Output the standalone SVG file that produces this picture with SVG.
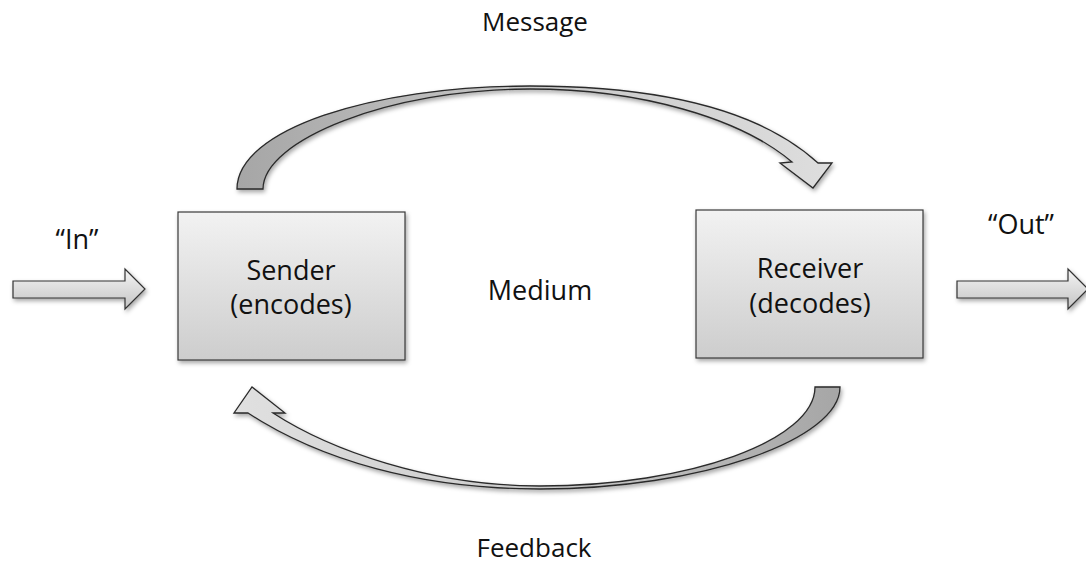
<svg xmlns="http://www.w3.org/2000/svg" width="1086" height="565" viewBox="0 0 1086 565">
  <style>
    .lbl { font-family: "Open Sans", "Liberation Sans", sans-serif; font-size: 27px; fill: #111; text-anchor: middle; }
    .big { font-size: 26px; }
    .box { fill: url(#boxFill); stroke: #3a3a3a; stroke-width: 1.2; filter: url(#shadow); }
    .straight { fill: url(#straightFill); stroke: #333; stroke-width: 1.2; stroke-linejoin: miter; filter: url(#shadow); }
    .curve { stroke: #2a2a2a; stroke-width: 1.3; stroke-linejoin: miter; filter: url(#shadow); }
  </style>
  <defs>
    <filter id="shadow" x="-10%" y="-10%" width="125%" height="130%">
      <feDropShadow dx="1.5" dy="2.5" stdDeviation="2" flood-color="#000" flood-opacity="0.35"/>
    </filter>
    <linearGradient id="boxFill" x1="0" y1="0" x2="0" y2="1">
      <stop offset="0" stop-color="#f2f2f2"/>
      <stop offset="1" stop-color="#cdcdcd"/>
    </linearGradient>
    <linearGradient id="straightFill" x1="0" y1="0" x2="0" y2="1">
      <stop offset="0" stop-color="#f4f4f4"/>
      <stop offset="1" stop-color="#c4c4c4"/>
    </linearGradient>
    <linearGradient id="topFill" x1="237" y1="0" x2="835" y2="0" gradientUnits="userSpaceOnUse">
      <stop offset="0" stop-color="#a6a6a6"/>
      <stop offset="0.5" stop-color="#c8c8c8"/>
      <stop offset="1" stop-color="#dedede"/>
    </linearGradient>
    <linearGradient id="bottomFill" x1="840" y1="0" x2="234" y2="0" gradientUnits="userSpaceOnUse">
      <stop offset="0" stop-color="#a6a6a6"/>
      <stop offset="0.5" stop-color="#cbcbcb"/>
      <stop offset="1" stop-color="#e0e0e0"/>
    </linearGradient>
  </defs>

  <!-- connectors -->
  <g id="connectors">
    <!-- input arrow -->
    <path class="straight" d="M13,281 L125,281 L125,269 L145,289 L125,309 L125,298 L13,298 Z"/>
    <!-- output arrow -->
    <path class="straight" d="M957,281 L1068,281 L1068,269 L1088,289 L1068,309 L1068,298 L957,298 Z"/>
    <!-- message arc: sender to receiver -->
    <path class="curve" fill="url(#topFill)" d="M237,189 C237,130 370,86 530,86 C660,86 760,110 818,163 L832,163 L813,188 L780,163 L792,162 C740,118 640,89 530,89 C390,89 263,140 263,189 Z"/>
    <!-- feedback arc: receiver back to sender -->
    <path class="curve" fill="url(#bottomFill)" d="M815,387 L840,387 C840,440 700,489 540,489 C420,489 320,460 248,413 L234,413 L252,387 L285,413 L273,413 C330,450 430,486 540,486 C690,486 815,440 815,387 Z"/>
  </g>

  <g id="sender">
    <rect class="box" x="178" y="212" width="227" height="148"/>
    <text class="lbl" x="291" y="280">Sender</text>
    <text class="lbl" x="291" y="314">(encodes)</text>
  </g>

  <g id="receiver">
    <rect class="box" x="696" y="210" width="227" height="148"/>
    <text class="lbl" x="810" y="278">Receiver</text>
    <text class="lbl" x="810" y="313">(decodes)</text>
  </g>

  <g id="medium">
    <text class="lbl" x="540" y="300">Medium</text>
  </g>

  <g id="labels">
    <text class="lbl big" x="535" y="31">Message</text>
    <text class="lbl big" x="534" y="557">Feedback</text>
    <text class="lbl" x="77" y="249">“In”</text>
    <text class="lbl" x="1021" y="234">“Out”</text>
  </g>
</svg>
